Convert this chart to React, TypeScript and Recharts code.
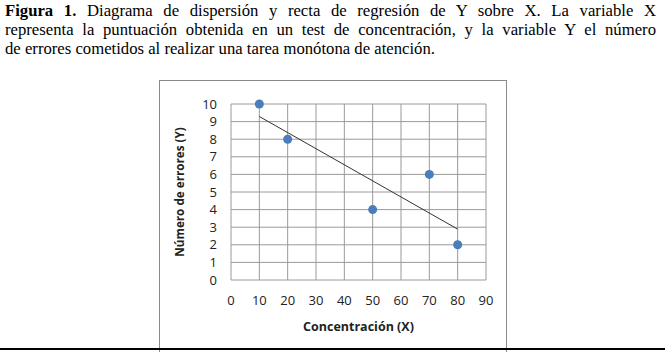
import {
  CartesianGrid,
  ComposedChart,
  Line,
  Scatter,
  XAxis,
  YAxis
} from "recharts";

// observed data (X = concentración, Y = número de errores)
const xValues = [10, 20, 50, 70, 80];
const yValues = [10, 8, 4, 6, 2];

// fitted regression line end points
const lineX = [10, 80];
const lineY = [9.29, 2.89];

const xTicks = [0, 10, 20, 30, 40, 50, 60, 70, 80, 90];
const yTicks = [0, 1, 2, 3, 4, 5, 6, 7, 8, 9, 10];

const points = xValues.map((x, i) => ({ x, y: yValues[i] }));
const regression = lineX.map((x, i) => ({ x, y: lineY[i] }));

const tickStyle = { fontFamily: "'Open Sans', sans-serif", fontSize: 13, fill: "#222" };
const titleStyle = { fontFamily: "'Open Sans', sans-serif", fontSize: 12.5, fontWeight: 700, fill: "#222" };

const captionLine = {
  display: "block",
  textAlign: "justify" as const,
  textAlignLast: "justify" as const
};

export default function App() {
  return (
    <div style={{ position: "fixed", left: 0, top: 0, width: 665, height: 352, background: "#fff", overflow: "hidden" }}>
      <div
        style={{
          position: "absolute",
          left: 5,
          top: 1,
          width: 651,
          fontFamily: "'Liberation Serif', serif",
          fontSize: 16.7,
          lineHeight: "19px",
          color: "#000"
        }}
      >
        <span style={captionLine}>
          <b>Figura 1.</b> Diagrama de dispersión y recta de regresión de Y sobre X. La variable X
        </span>
        <span style={captionLine}>
          representa la puntuación obtenida en un test de concentración, y la variable Y el número
        </span>
        <span style={{ display: "block" }}>
          de errores cometidos al realizar una tarea monótona de atención.
        </span>
      </div>

      <div
        style={{
          position: "absolute",
          left: 159,
          top: 80,
          width: 346,
          height: 280,
          border: "1px solid #8a8a8a"
        }}
      />
      <div style={{ position: "absolute", left: 159, top: 81 }}>
        <ComposedChart width={348} height={271} margin={{ top: 23, right: 21, left: 0, bottom: 0 }}>
          <CartesianGrid stroke="#9a9a9a" strokeWidth={1} />
          <XAxis
            type="number"
            dataKey="x"
            domain={[0, 90]}
            ticks={xTicks}
            interval={0}
            axisLine={false}
            tickLine={false}
            tickSize={0}
            tickMargin={16}
            height={72}
            tick={tickStyle}
            label={{
              content: ({ viewBox }: any) => (
                <text
                  x={viewBox.x + viewBox.width / 2}
                  y={viewBox.y + 51}
                  textAnchor="middle"
                  style={titleStyle}
                >
                  Concentración (X)
                </text>
              )
            }}
          />
          <YAxis
            type="number"
            dataKey="y"
            domain={[0, 10]}
            ticks={yTicks}
            interval={0}
            axisLine={false}
            tickLine={false}
            tickSize={0}
            tickMargin={14}
            width={72}
            tick={tickStyle}
            label={{
              content: ({ viewBox }: any) => {
                const cx = viewBox.x + 25;
                const cy = viewBox.y + viewBox.height / 2;
                return (
                  <text
                    x={cx}
                    y={cy}
                    textAnchor="middle"
                    transform={`rotate(-90 ${cx} ${cy})`}
                    style={{ ...titleStyle, fontSize: 11.7 }}
                  >
                    Número de errores (Y)
                  </text>
                );
              }
            }}
          />
          <Line
            data={regression}
            dataKey="y"
            stroke="#333"
            strokeWidth={1}
            dot={false}
            activeDot={false}
            isAnimationActive={false}
          />
          <Scatter data={points} dataKey="y" fill="#4a7ebb" shape="circle" isAnimationActive={false} />
        </ComposedChart>
      </div>

      <div style={{ position: "absolute", left: 0, top: 348, width: 665, height: 2, background: "#000" }} />
    </div>
  );
}
